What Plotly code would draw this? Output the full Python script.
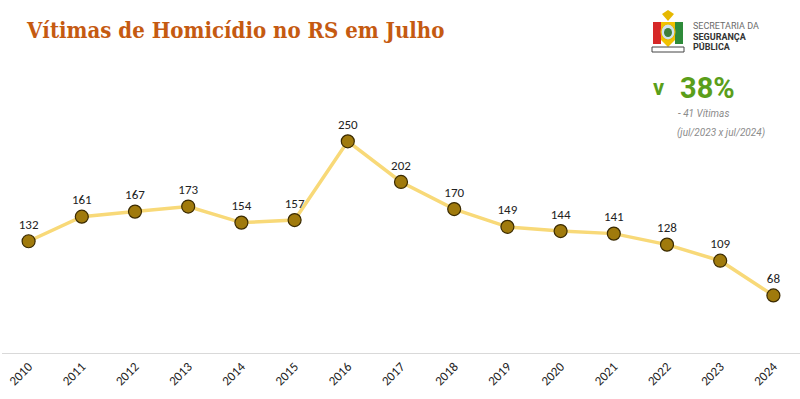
import plotly.graph_objects as go

years = ["2010", "2011", "2012", "2013", "2014", "2015", "2016", "2017",
         "2018", "2019", "2020", "2021", "2022", "2023", "2024"]
victims = [132, 161, 167, 173, 154, 157, 250, 202, 170, 149, 144, 141, 128, 109, 68]

W, H = 800, 399
ML, MR, MT, MB = 2, 0, 99, 46
PW, PH = W - ML - MR, H - MT - MB

fig = go.Figure()
fig.add_trace(go.Scatter(
    x=years, y=victims, mode="lines+markers+text",
    line=dict(color="#F8D978", width=3.5),
    marker=dict(size=13, color="#A07A0C", line=dict(color="#3A2A00", width=1.2)),
    text=[str(v) for v in victims], textposition="top center",
    textfont=dict(family="Carlito, Liberation Sans, Arial", size=13, color="#222222"),
    cliponaxis=False, hoverinfo="skip",
))

fig.update_layout(
    width=W, height=H,
    margin=dict(l=ML, r=MR, t=MT, b=MB, autoexpand=False),
    paper_bgcolor="white", plot_bgcolor="white",
    showlegend=False,
    xaxis=dict(type="category", range=[-0.5, len(years) - 0.5],
               showgrid=False, zeroline=False, automargin=False,
               showline=True, linecolor="#D9D9D9", linewidth=1,
               ticks="", tickangle=-45,
               tickfont=dict(family="Carlito, Liberation Sans, Arial", size=13, color="#222222")),
    yaxis=dict(range=[0, 300], visible=False, showgrid=False, zeroline=False, automargin=False),
)

def px(x):
    return (x - ML) / PW

def py(y):
    return (H - MB - y) / PH

def ann(x, y, text, size, color, family="Roboto, Liberation Sans", xanchor="left"):
    fig.add_annotation(xref="paper", yref="paper", x=px(x), y=py(y),
                       xanchor=xanchor, yanchor="middle", showarrow=False,
                       text=text, font=dict(family=family, size=size, color=color))

# Title
ann(24, 30, "<b>Vítimas de Homicídio no RS em Julho</b>", 22, "#C55A11",
    family="DejaVu Serif Condensed, DejaVu Serif, serif")

# Simple emblem approximation
def rect(x0, y0, x1, y1, fill, line=None):
    fig.add_shape(type="rect", xref="paper", yref="paper",
                  x0=px(x0), x1=px(x1), y0=py(y1), y1=py(y0),
                  fillcolor=fill, line=line or dict(width=0))

def circ(x0, y0, x1, y1, fill, line=None):
    fig.add_shape(type="circle", xref="paper", yref="paper",
                  x0=px(x0), x1=px(x1), y0=py(y1), y1=py(y0),
                  fillcolor=fill, line=line or dict(width=0))

def poly(pts, fill):
    path = " ".join((("M " if i == 0 else "L ") + f"{px(x):.5f},{py(y):.5f}")
                    for i, (x, y) in enumerate(pts)) + " Z"
    fig.add_shape(type="path", xref="paper", yref="paper", path=path,
                  fillcolor=fill, line=dict(width=0))

rect(653, 22, 661, 44, "#D62828")
rect(675, 22, 683, 44, "#2E8B3A")
poly([(661, 22), (675, 22), (675, 40), (668, 47), (661, 40)], "#F2C200")
circ(661, 24, 675, 40, "#CFE3F0", dict(color="#E6B800", width=1.2))
circ(664, 28, 672, 37, "#3F7F3A")
poly([(662, 14), (668, 21), (674, 14), (668, 10)], "#E6B800")
rect(652, 47, 684, 52, "#FFFFFF", dict(color="#444444", width=1))

# Secretaria text
ann(691, 26, "SECRETARIA DA", 9, "#6B6B6B")
ann(691, 37, "<b>SEGURANÇA</b>", 9, "#333333")
ann(691, 47, "<b>PÚBLICA</b>", 9, "#333333")

# KPI
ann(651, 87, "<b>v</b>", 22, "#5A9E1A")
ann(678, 88, "<b>38%</b>", 29, "#5A9E1A")
ann(676, 113, "<i>- 41 Vítimas</i>", 10, "#8C8C8C")
ann(675, 133, "<i>(jul/2023 x jul/2024)</i>", 10, "#8C8C8C")

fig.write_html("out.html",
               config={"displayModeBar": False},
               post_script="document.body.style.margin='0';document.body.style.overflow='hidden';")
